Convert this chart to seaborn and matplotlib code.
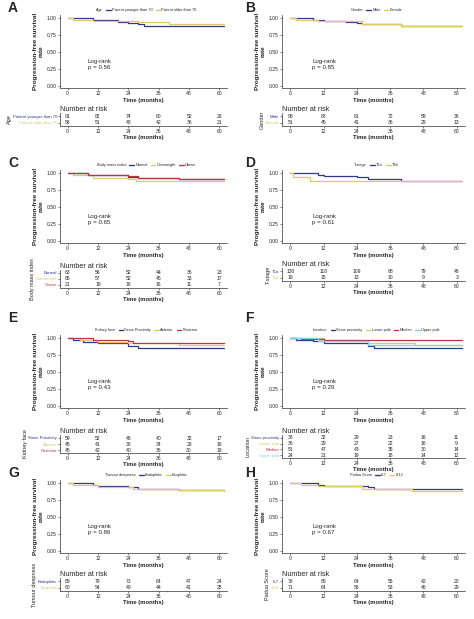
import matplotlib
matplotlib.use("Agg")
import matplotlib.pyplot as plt
import seaborn as sns
from matplotlib.lines import Line2D

sns.set_theme(style="white")
plt.rcParams['font.family'] = ['Liberation Sans', 'DejaVu Sans']

NAVY = "#2E3A87"; GOLD = "#E3C76A"; RED = "#B8344F"; GREEN = "#6BAF5B"; CYAN = "#7FD3E6"
ticks = [0, 12, 24, 36, 48, 60]

# ---- data ----
A_title = "Age"
A_groups = ["Patient younger than 70", "Patient older than 70"]
A_t = [[0, 8, 10, 20, 24, 28, 30, 62], [0, 2, 10, 26, 28, 40, 62]]
A_s = [[1, 1, 0.97, 0.95, 0.93, 0.91, 0.89, 0.89], [1, 0.98, 0.96, 0.96, 0.94, 0.92, 0.92]]
A_risk = [[91, 82, 74, 60, 52, 28], [58, 51, 48, 42, 36, 21]]
A_p = "p = 0.56"

B_title = "Gender"
B_groups = ["Male", "Female"]
B_t = [[0, 8, 12, 20, 24, 26, 40, 62], [0, 2, 10, 24, 26, 40, 62]]
B_s = [[1, 0.98, 0.96, 0.95, 0.93, 0.91, 0.89, 0.89], [1, 0.98, 0.96, 0.96, 0.91, 0.89, 0.89]]
B_risk = [[98, 88, 81, 72, 59, 36], [51, 45, 41, 36, 29, 13]]
B_p = "p = 0.85"

C_title = "Body mass index"
C_groups = ["Normal", "Overweight", "Obese"]
C_t = [[0, 8, 12, 24, 28, 44, 62], [0, 2, 10, 24, 27, 62], [0, 8, 24, 28, 44, 62]]
C_s = [[1, 0.98, 0.97, 0.95, 0.93, 0.91, 0.91], [1, 0.97, 0.93, 0.92, 0.88, 0.88], [1, 0.98, 0.96, 0.93, 0.91, 0.91]]
C_risk = [[63, 56, 52, 44, 36, 23], [65, 57, 52, 45, 33, 17], [21, 19, 18, 16, 11, 7]]
C_p = "p = 0.65"

D_title = "T-stage"
D_groups = ["T1a", "T1b"]
D_t = [[0, 10, 12, 24, 28, 40, 62], [0, 1, 7, 62]]
D_s = [[1, 0.98, 0.96, 0.94, 0.91, 0.89, 0.89], [1, 0.95, 0.89, 0.89]]
D_risk = [[130, 118, 109, 98, 79, 46], [19, 15, 13, 10, 9, 3]]
D_p = "p = 0.61"

E_title = "Kidney face"
E_groups = ["Sinus Proximity", "Anterior", "Posterior"]
E_t = [[0, 2, 6, 12, 24, 28, 62], [0, 5, 12, 24, 44, 62], [0, 10, 24, 26, 62]]
E_s = [[1, 0.98, 0.95, 0.93, 0.89, 0.86, 0.86], [1, 0.97, 0.95, 0.93, 0.90, 0.90], [1, 0.98, 0.96, 0.93, 0.93]]
E_risk = [[59, 52, 46, 40, 32, 17], [45, 41, 38, 34, 28, 16], [45, 42, 40, 36, 30, 19]]
E_p = "p = 0.43"

F_title = "Location"
F_groups = ["Sinus proximity", "Lower pole", "Median", "Upper pole"]
F_t = [[0, 2, 8, 12, 28, 30, 62], [0, 12, 28, 45, 62], [0, 4, 12, 62], [0, 10, 28, 62]]
F_s = [[1, 0.98, 0.96, 0.93, 0.89, 0.86, 0.86], [1, 0.98, 0.93, 0.90, 0.90], [1, 0.99, 0.97, 0.97], [1, 0.96, 0.90, 0.90]]
F_risk = [[38, 32, 29, 23, 16, 11], [36, 29, 27, 22, 16, 9], [51, 47, 43, 35, 30, 14], [24, 21, 19, 18, 14, 12]]
F_p = "p = 0.29"

G_title = "Tumour deepness"
G_groups = ["Endophitic", "Esophitic"]
G_t = [[0, 10, 12, 24, 28, 44, 62], [0, 2, 12, 26, 44, 62]]
G_s = [[1, 0.98, 0.96, 0.94, 0.91, 0.90, 0.90], [1, 0.98, 0.95, 0.91, 0.90, 0.89]]
G_risk = [[89, 79, 73, 64, 47, 24], [60, 54, 49, 44, 41, 25]]
G_p = "p = 0.86"

H_title = "Padua Score"
H_groups = ["6-7", "8-12"]
H_t = [[0, 10, 12, 28, 30, 62], [0, 4, 10, 26, 44, 62]]
H_s = [[1, 0.98, 0.96, 0.95, 0.91, 0.91], [1, 0.98, 0.96, 0.91, 0.89, 0.89]]
H_risk = [[78, 69, 64, 55, 42, 20], [71, 64, 58, 53, 46, 29]]
H_p = "p = 0.67"

panels = [
    ("A", A_title, A_groups, A_t, A_s, A_risk, A_p, [NAVY, GOLD]),
    ("B", B_title, B_groups, B_t, B_s, B_risk, B_p, [NAVY, GOLD]),
    ("C", C_title, C_groups, C_t, C_s, C_risk, C_p, [NAVY, GOLD, RED]),
    ("D", D_title, D_groups, D_t, D_s, D_risk, D_p, [NAVY, GOLD]),
    ("E", E_title, E_groups, E_t, E_s, E_risk, E_p, [NAVY, GOLD, RED]),
    ("F", F_title, F_groups, F_t, F_s, F_risk, F_p, [NAVY, GOLD, RED, CYAN]),
    ("G", G_title, G_groups, G_t, G_s, G_risk, G_p, [NAVY, GOLD]),
    ("H", H_title, H_groups, H_t, H_s, H_risk, H_p, [NAVY, GOLD]),
]

W, H = 474, 619
fig = plt.figure(figsize=(W / 100, H / 100), dpi=100)
FS = 3.6

def box(x0, y0, x1, y1):
    return [x0 / W, 1 - y1 / H, (x1 - x0) / W, (y1 - y0) / H]

for i, (letter, title, groups, T, S, risk, p, cols) in enumerate(panels):
    col = i % 2
    row = i // 2
    R = [0, 155, 310, 465][row]
    X0 = 0 if col == 0 else 237
    axl, axr = (X0 + 60, X0 + 227) if col == 0 else (X0 + 45, X0 + 228)
    n = len(groups)
    top = R + (15 if row != 2 else 25)
    bot = R + (88 if row != 2 else 98)
    ax = fig.add_axes(box(axl, top, axr, bot))
    for g, t, s, c in zip(groups, T, S, cols):
        sns.lineplot(x=t, y=s, ax=ax, color=c, drawstyle="steps-post", linewidth=0.9)
    ax.set_xlim(-3, 63)
    ax.set_ylim(-0.03, 1.05)
    ax.set_xticks(ticks)
    ax.set_yticks([0, 0.25, 0.5, 0.75, 1.0])
    ax.set_yticklabels(["0.00", "0.25", "0.50", "0.75", "1.00"])
    ax.tick_params(labelsize=FS, length=1.5, width=0.4, pad=1, left=True, bottom=True)
    for sp in ["top", "right"]:
        ax.spines[sp].set_visible(False)
    for sp in ["left", "bottom"]:
        ax.spines[sp].set_linewidth(0.5); ax.spines[sp].set_color("#333333")
    ax.set_xlabel("Time (months)", fontsize=4.2, fontweight="bold", labelpad=1)
    ax.set_ylabel("Progression-free survival\nrate", fontsize=4.6, fontweight="bold", labelpad=2)
    ax.text(8, 0.32, "Log-rank\n" + p, fontsize=4.4, va="center", ha="left")
    handles = [Line2D([], [], color="none")] + [Line2D([], [], color=c, lw=1) for c in cols]
    ax.legend(handles, [title] + groups, ncol=n + 1, fontsize=2.8, frameon=False,
              loc="lower center", bbox_to_anchor=(0.5, 1.0), handlelength=1.2,
              columnspacing=0.8, handletextpad=0.3, borderaxespad=0.3)
    fig.text((X0 + 8) / W, 1 - (R + 12) / H, letter, fontsize=10, fontweight="bold")

    # risk table
    rt_top = R + (113 if n <= 2 else 115) + (10 if row == 2 else 0)
    rt_bot = rt_top + 5 * n + 3
    tax = fig.add_axes(box(axl, rt_top, axr, rt_bot))
    tax.set_xlim(-3, 63)
    tax.set_ylim(n - 0.5, -0.5)
    for k, (g, rr, c) in enumerate(zip(groups, risk, cols)):
        for x, v in zip(ticks, rr):
            tax.text(x, k, str(v), fontsize=FS, ha="center", va="center")
    tax.set_yticks(range(n))
    tax.set_yticklabels(groups, fontsize=3.1)
    for lab, c in zip(tax.get_yticklabels(), cols):
        lab.set_color(c)
    tax.set_xticks(ticks)
    tax.tick_params(axis="x", labelsize=FS)
    tax.tick_params(length=1.2, width=0.4, pad=0.8, left=True, bottom=True)
    for sp in ["top", "right"]:
        tax.spines[sp].set_visible(False)
    for sp in ["left", "bottom"]:
        tax.spines[sp].set_linewidth(0.5); tax.spines[sp].set_color("#333333")
    tax.set_xlabel("Time (months)", fontsize=4.2, fontweight="bold", labelpad=1)
    tax.set_ylabel(title, fontsize=4.0, labelpad=0.5)
    tax.set_title("Number at risk", fontsize=5.2, loc="left", pad=1.5)

fig.savefig("out.png", dpi=100, facecolor="white")
